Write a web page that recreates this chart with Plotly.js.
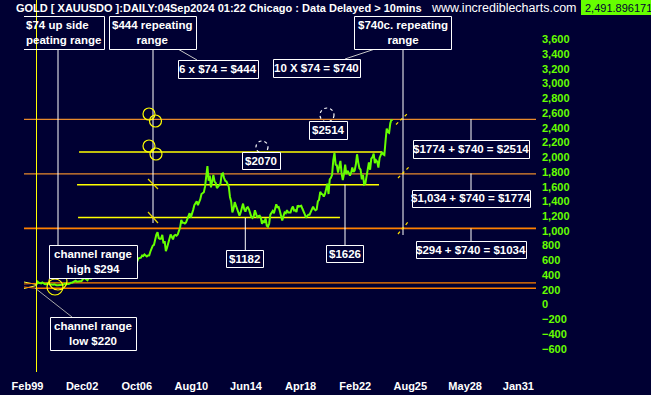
<!DOCTYPE html>
<html><head><meta charset="utf-8">
<script src="https://cdn.plot.ly/plotly-3.0.1.min.js"></script>
<style>html,body{margin:0;padding:0;background:#000033;}#chart{width:651px;height:395px;}</style>
</head><body><div id="chart"></div>
<script>
// ---------------- data ----------------
const firstYear = 1999, firstMonth = 9;   // first monthly value: Sep 1999
const lastDay = 4;                          // last bar: 04 Sep 2024
const goldMonthly = [
  270, 310, 295, 288,                                              // 1999 Sep-Dec
  287, 300, 282, 278, 275, 286, 280, 276, 272, 268, 268, 274,      // 2000
  266, 262, 262, 262, 272, 270, 267, 273, 285, 280, 275, 277,      // 2001
  283, 296, 296, 303, 318, 322, 310, 310, 320, 317, 318, 340,      // 2002
  360, 355, 336, 330, 360, 350, 352, 370, 385, 382, 395, 412,      // 2003
  414, 402, 412, 398, 386, 392, 398, 405, 410, 424, 445, 438,      // 2004
  424, 428, 432, 430, 420, 432, 426, 438, 460, 470, 480, 512,      // 2005
  555, 560, 565, 630, 700, 600, 635, 628, 600, 590, 628, 630,      // 2006
  635, 665, 658, 680, 665, 652, 665, 668, 720, 770, 800, 810,      // 2007
  900, 950, 980, 900, 890, 895, 945, 830, 860, 725, 770, 840,      // 2008
  880, 950, 920, 885, 935, 945, 935, 950, 1000, 1045, 1150, 1110,  // 2009
  1110, 1100, 1115, 1155, 1215, 1240, 1180, 1220, 1285, 1350, 1385, 1400, // 2010
  1350, 1385, 1430, 1500, 1520, 1525, 1600, 1800, 1880, 1680, 1750, 1590, // 2011
  1680, 1760, 1670, 1650, 1580, 1600, 1610, 1640, 1770, 1780, 1720, 1680, // 2012
  1670, 1620, 1600, 1460, 1400, 1250, 1300, 1390, 1340, 1320, 1260, 1205, // 2013
  1250, 1320, 1370, 1295, 1260, 1310, 1320, 1290, 1220, 1190, 1175, 1200, // 2014
  1280, 1230, 1180, 1200, 1205, 1175, 1095, 1130, 1120, 1170, 1070, 1055, // 2015
  1100, 1220, 1240, 1270, 1240, 1310, 1360, 1320, 1325, 1270, 1200, 1140, // 2016
  1200, 1250, 1240, 1280, 1250, 1255, 1250, 1300, 1330, 1275, 1280, 1255, // 2017
  1345, 1330, 1330, 1340, 1300, 1270, 1225, 1180, 1195, 1220, 1220, 1260, // 2018
  1300, 1330, 1295, 1280, 1290, 1400, 1420, 1530, 1500, 1495, 1465, 1500, // 2019
  1570, 1640, 1500, 1700, 1720, 1760, 1960, 2060, 1900, 1890, 1790, 1880, // 2020
  1950, 1780, 1690, 1770, 1900, 1770, 1815, 1790, 1750, 1785, 1860, 1800, // 2021
  1820, 1900, 2040, 1930, 1850, 1830, 1700, 1760, 1630, 1640, 1760, 1810, // 2022
  1930, 1830, 1980, 2000, 2050, 1920, 1960, 1940, 1860, 1990, 2040, 2070, // 2023
  2040, 2030, 2220, 2390, 2340, 2330, 2460, 2510, 2492                    // 2024 Jan-Sep
];
const lastPrice = '2,491.896171';
const upperLevels = [2514, 1774];          // orange projected levels
const baseLevel = 1034;                     // orange
const channelLevels = [294, 220];           // channel high / low
const yellowLevels = [2070, 1626, 1182];
const xTickLabels = ['Feb99','Dec02','Oct06','Aug10','Jun14','Apr18','Feb22','Aug25','May28','Jan31'];
const yTickVals = [-600,-400,-200,0,200,400,600,800,1000,1200,1400,1600,1800,2000,2200,2400,2600,2800,3000,3200,3400,3600];

// ---------------- scales ----------------
const FONT = '"Liberation Sans", Arial, sans-serif';
const NAVY = '#000033', LIME = '#66ff00';
const L = 24, R = 536, T = 16, B = 372;              // plot area in px
const fx = p => (p - L) / (R - L);                     // px -> paper
const fy = p => (B - p) / (B - T);
const xr = [1998.837, 2034.767];
const yr = [-916.5, 3917.2];

// x positions (decimal years); future part of axis is calendar-day based (7/5 wider)
const xs = goldMonthly.map((v, i) => {
  const m = firstMonth - 1 + i, y = firstYear + Math.floor(m / 12), mo = m % 12;
  return i === goldMonthly.length - 1 ? y + (mo + lastDay / 30) / 12 : y + (mo + 0.5) / 12;
});
const tLast = xs[xs.length - 1];
const toAxis = t => t <= tLast ? t : tLast + 1.4 * (t - tLast);
const MONTHS = ['Jan','Feb','Mar','Apr','May','Jun','Jul','Aug','Sep','Oct','Nov','Dec'];
const xTickVals = xTickLabels.map(s => {
  const mo = MONTHS.indexOf(s.slice(0, 3)), yy = +s.slice(3);
  return toAxis((yy < 50 ? 2000 + yy : 1900 + yy) + mo / 12);
});

// ---------------- shapes ----------------
const shapes = [];
const line = (x0, y0, x1, y1, color, width, dash, layer) => shapes.push({type:'line', xref:'paper', yref:'paper',
  x0:fx(x0), y0:fy(y0), x1:fx(x1), y1:fy(y1), line:{color, width:width||1, dash:dash||'solid'}, layer:layer||'above'});
const circle = (cx, cy, r, color, dash) => shapes.push({type:'circle', xref:'paper', yref:'paper',
  x0:fx(cx - r), x1:fx(cx + r), y0:fy(cy + r), y1:fy(cy - r), line:{color, width:1.2, dash:dash||'solid'}});

// level lines (data coordinates)
upperLevels.forEach(v => shapes.push({type:'line', xref:'paper', yref:'y', x0:0, x1:1, y0:v, y1:v, layer:'below', line:{color:'#e88a2c', width:1.2}}));
shapes.push({type:'line', xref:'paper', yref:'y', x0:0, x1:1, y0:baseLevel, y1:baseLevel, layer:'below', line:{color:'#ff8000', width:1.6}});
channelLevels.forEach(v => shapes.push({type:'line', xref:'paper', yref:'y', x0:fx(36.5), x1:1, y0:v, y1:v, layer:'below', line:{color:'#ff8000', width:1.4}}));
const yellowSpan = [[2002.70, 2023.96], [2002.56, 2023.75], [2002.63, 2021.01]];
yellowLevels.forEach((v, i) => shapes.push({type:'line', xref:'x', yref:'y', x0:yellowSpan[i][0], x1:yellowSpan[i][1], y0:v, y1:v, layer:'below', line:{color:'#ffff00', width:1.5}}));

// small fan of channel lines at start
line(24, 282, 36.5, 284.5, '#ffff33', 1);
line(24, 288.5, 36.5, 285.5, '#ffff33', 1);
line(24, 284, 36.5, 283.3, '#ff8000', 1);
line(24, 287, 36.5, 288.3, '#ff8000', 1);

// connector lines
line(58, 49, 58, 245, '#ffffff', 1);
line(153, 49, 153, 223, '#ffffff', 1);
line(403, 49, 403, 235, '#ffffff', 1);
line(245.3, 218, 245.3, 250, '#ffffff', 1);
line(345, 184.5, 345, 245, '#ffffff', 1);
line(471, 119, 471, 140, '#ffffff', 1);
line(471, 173.5, 471, 190, '#ffffff', 1);
line(471, 228.5, 471, 241, '#ffffff', 1);
line(157, 37, 197, 60, '#c8c8c8', 1);
line(390, 44, 345, 59, '#c8c8c8', 1);
line(35, 288, 72, 317, '#a8a8a8', 1);

// yellow tick marks
line(148, 179, 158, 189, '#e8d800', 1.2);
line(148, 212, 158, 223, '#e8d800', 1.2);
line(396, 124.5, 407, 114, '#ffe000', 1.2, 'dot');
line(398, 178, 409, 167, '#ffe000', 1.2, 'dot');
line(398, 234, 408, 222, '#ffe000', 1.2, 'dot');

// circles
circle(149, 114, 6, '#ffff00');
circle(155.5, 121, 6, '#ffff00');
circle(149, 146, 6, '#ffff00');
circle(156, 154, 6, '#ffff00');
circle(58, 281, 9, '#ffff00');
circle(55, 287, 8, '#ffff00');
circle(262, 147, 6, '#ffffff', 'dot');
circle(327, 115, 7, '#ffffff', 'dot');

// vertical yellow marker line
line(36.5, 372, 36.5, 0, '#ffff00', 1);

// ---------------- boxes ----------------
const annotations = [];
const boxes = [
  ['$444 repeating<br>range', 109, 196, 16, 49],
  ['$740c. repeating<br>range', 354, 451, 16, 49],
  ['6 x $74 = $444', 178, 258, 60, 78],
  ['10 X $74 = $740', 273, 360, 59, 77],
  ['$2070', 242, 280, 152, 169],
  ['$2514', 309, 347, 121, 139],
  ['$1182', 226, 263, 250, 267],
  ['$1626', 326, 363, 245, 262],
  ['$1774 + $740 = $2514', 413, 529, 140, 158],
  ['$1,034 + $740 = $1774', 412, 530, 190, 207],
  ['$294 + $740 = $1034', 416, 526, 241, 258],
  ['channel range<br>high $294', 49, 137, 245, 278],
  ['channel range<br>low $220', 50, 136, 317, 350]
];
boxes.forEach(([t, x0, x1, y0, y1]) => {
  shapes.push({type:'rect', xref:'paper', yref:'paper', x0:fx(x0 + 0.5), x1:fx(x1 + 0.5), y0:fy(y1 + 0.5), y1:fy(y0 + 0.5), fillcolor:NAVY, line:{color:'#ffffff', width:1}});
  annotations.push({xref:'paper', yref:'paper', x:fx((x0 + x1) / 2), y:fy((y0 + y1) / 2), xanchor:'center', yanchor:'middle',
    text:'<b>' + t + '</b>', showarrow:false, borderpad:0, borderwidth:0, font:{family:FONT, size:11.5, color:'#ffffff'}});
});
// clipped box at left edge (no left border)
shapes.push({type:'path', xref:'paper', yref:'paper', line:{color:'#ffffff', width:1},
  path:`M${fx(24)},${fy(16.5)} L${fx(104.5)},${fy(16.5)} L${fx(104.5)},${fy(49.5)} L${fx(24)},${fy(49.5)}`});
annotations.push({xref:'paper', yref:'paper', x:fx(25), y:fy(32.5), xanchor:'left', yanchor:'middle', align:'left',
  text:'<b>$74 up side<br>peating range</b>', showarrow:false, borderpad:0, font:{family:FONT, size:11.5, color:'#ffffff'}});

// header texts
annotations.push({xref:'paper', yref:'paper', x:fx(15), y:fy(8), xanchor:'left', yanchor:'middle', showarrow:false, borderpad:0,
  text:'<b>GOLD [ XAUUSDO ]:DAILY:04Sep2024 01:22 Chicago : Data Delayed > 10mins</b>', font:{family:FONT, size:11, color:'#ffffff'}});
annotations.push({xref:'paper', yref:'paper', x:fx(430), y:fy(8), xanchor:'left', yanchor:'middle', showarrow:false, borderpad:0,
  text:'www.incrediblecharts.com', font:{family:FONT, size:12.5, color:'#ffffff'}});
shapes.push({type:'rect', xref:'paper', yref:'paper', x0:fx(581), x1:fx(652), y0:fy(15), y1:fy(0), fillcolor:LIME, line:{width:0}});
annotations.push({xref:'paper', yref:'paper', x:fx(584), y:fy(7.5), xanchor:'left', yanchor:'middle', showarrow:false, borderpad:0,
  text:lastPrice, font:{family:FONT, size:11, color:NAVY}});

// ---------------- plot ----------------
const trace = {x: xs, y: goldMonthly, type:'scatter', mode:'lines', line:{color:LIME, width:2}, hoverinfo:'skip'};
const layout = {
  width:651, height:395, margin:{l:L, r:651 - R, t:T, b:395 - B},
  paper_bgcolor:NAVY, plot_bgcolor:NAVY, showlegend:false,
  xaxis:{range:xr, tickvals:xTickVals, ticktext:xTickLabels, showgrid:false, zeroline:false, showline:false, ticks:'',
    tickfont:{family:FONT, size:11, color:'#ffffff', weight:'bold'}, ticklabelstandoff:6, fixedrange:true},
  yaxis:{range:yr, side:'right', tickvals:yTickVals, tickformat:',d', showgrid:false, zeroline:false, showline:false, ticks:'',
    tickfont:{family:FONT, size:11, color:LIME, weight:'bold'}, ticklabelstandoff:5, fixedrange:true},
  shapes, annotations
};
Plotly.newPlot('chart', [trace], layout, {staticPlot:true, displayModeBar:false});
</script></body></html>
